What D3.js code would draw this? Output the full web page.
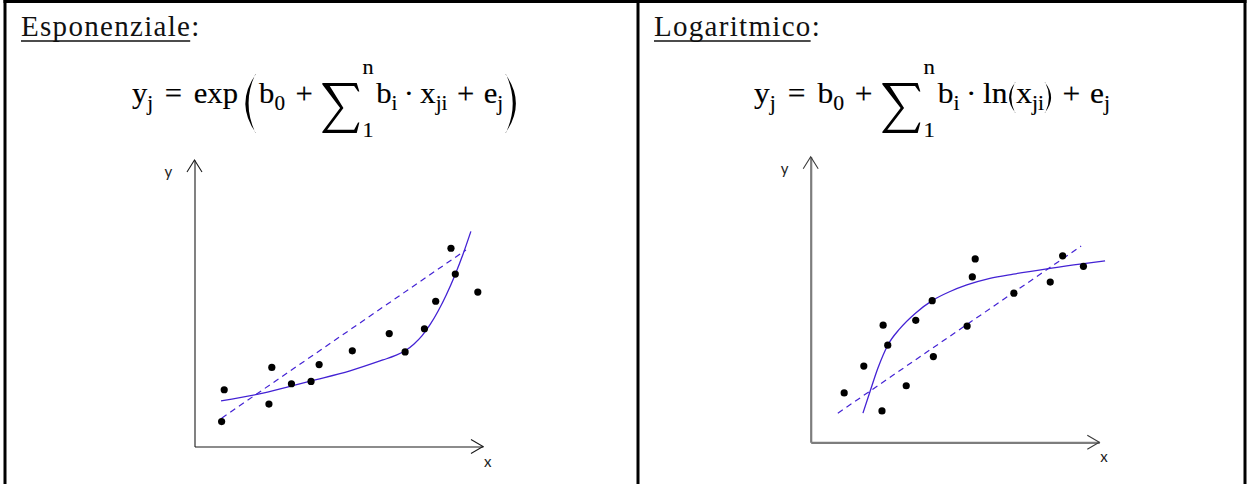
<!DOCTYPE html>
<html>
<head>
<meta charset="utf-8">
<script src="https://cdn.jsdelivr.net/npm/d3@7"></script>
<style>
  html, body { margin: 0; padding: 0; background: #fff; }
  svg { display: block; }
</style>
</head>
<body>
<svg id="chart" width="1248" height="484"></svg>
<script>
// ---- Exponential model: observations, straight fit, curved fit ----
const expPointsX = [0.94, 1.03, 2.58, 2.68, 3.36, 4.04, 4.32, 5.47, 6.75, 7.30, 7.97, 8.36, 8.89, 9.04, 9.82];
const expPointsY = [0.87, 1.98, 1.48, 2.76, 2.19, 2.27, 2.86, 3.34, 3.94, 3.30, 4.11, 5.07, 6.92, 6.02, 5.39];
const expLineX   = [0.94, 9.41];
const expLineY   = [0.99, 6.86];
const expCurveX  = [0.92, 2.17, 3.34, 4.04, 5.39, 6.53, 6.95, 7.30, 7.61, 7.89, 8.17, 8.45, 8.73, 9.03, 9.31, 9.58];
const expCurveY  = [1.59, 1.82, 2.11, 2.29, 2.64, 3.02, 3.17, 3.34, 3.58, 3.87, 4.26, 4.74, 5.30, 5.99, 6.72, 7.51];

// ---- Logarithmic model ----
const logPointsX = [1.16, 1.84, 2.47, 2.51, 2.67, 3.31, 3.64, 4.21, 4.25, 5.42, 5.60, 5.70, 7.04, 8.30, 8.73, 9.45];
const logPointsY = [1.73, 2.67, 1.10, 4.10, 3.40, 1.98, 4.27, 4.96, 3.00, 4.07, 5.79, 6.42, 5.22, 5.61, 6.53, 6.16];
const logLineX   = [0.94, 9.37];
const logLineY   = [1.02, 6.87];
const logCurveX  = [1.81, 2.05, 2.33, 2.67, 3.09, 3.64, 4.21, 4.83, 5.41, 6.21, 7.02, 8.29, 9.33, 10.20];
const logCurveY  = [1.02, 1.76, 2.60, 3.40, 3.98, 4.53, 4.96, 5.28, 5.51, 5.74, 5.89, 6.09, 6.24, 6.35];

const panelTitles = ["Esponenziale", "Logaritmico"];
const axisNames   = ["x", "y"];

// Formula pieces: main text, subscripts, operators, big delimiters and the sum
const expFormula = [
  {t: "y"}, {s: "j"}, {g: 11}, {t: "="}, {g: 11}, {t: "exp"}, {g: 5},
  {bigParen: "("}, {g: 3}, {t: "b"}, {s: "0"}, {g: 10}, {t: "+"}, {g: 9},
  {sum: true, top: "n", bottom: "1"}, {t: "b"}, {s: "i"}, {g: 6}, {t: "·"}, {g: 6},
  {t: "x"}, {s: "ji"}, {g: 9}, {t: "+"}, {g: 9}, {t: "e"}, {s: "j"}, {g: 2},
  {bigParen: ")"}
];
const logFormula = [
  {t: "y"}, {s: "j"}, {g: 11}, {t: "="}, {g: 11}, {t: "b"}, {s: "0"}, {g: 10},
  {t: "+"}, {g: 9}, {sum: true, top: "n", bottom: "1"}, {t: "b"}, {s: "i"}, {g: 6},
  {t: "·"}, {g: 6}, {t: "ln"}, {paren: "("}, {t: "x"}, {s: "ji"}, {paren: ")"},
  {g: 9}, {t: "+"}, {g: 9}, {t: "e"}, {s: "j"}
];

const svg = d3.select("#chart");
const SERIF = "'Liberation Serif', 'Times New Roman', serif";
const SANS = "Lato, 'Liberation Sans', sans-serif";
const CURVE = "#4322d4";

// ---- Table frame ----
const frame = svg.append("g").attr("stroke", "#000").attr("stroke-width", 3).attr("fill", "none");
frame.append("line").attr("x1", 3.5).attr("x2", 1246.5).attr("y1", 1.5).attr("y2", 1.5);
frame.append("line").attr("x1", 5).attr("x2", 5).attr("y1", 0).attr("y2", 484);
frame.append("line").attr("x1", 638).attr("x2", 638).attr("y1", 0).attr("y2", 484);
frame.append("line").attr("x1", 1245).attr("x2", 1245).attr("y1", 0).attr("y2", 484);

// ---- Titles (underlined word followed by a colon) ----
function title(x, baseline, word) {
  const g = svg.append("g");
  const w = g.append("text").attr("x", x).attr("y", baseline)
    .attr("font-family", SERIF).attr("font-size", 29).attr("letter-spacing", 1.3)
    .attr("fill", "#111").text(word);
  const len = w.node().getComputedTextLength();
  g.append("text").attr("x", x + len).attr("y", baseline)
    .attr("font-family", SERIF).attr("font-size", 29).attr("fill", "#111").text(":");
  g.append("line").attr("x1", x).attr("x2", x + len - 1)
    .attr("y1", baseline + 5).attr("y2", baseline + 5)
    .attr("stroke", "#111").attr("stroke-width", 1.4);
}
title(21, 36, panelTitles[0]);
title(654, 36, panelTitles[1]);

// ---- Formula layout ----
// crescent-shaped delimiter between yTop and yBot, w wide, thick at the middle
function parenPath(ch, x, w, yTop, yBot, thick) {
  const ym = (yTop + yBot) / 2;
  if (ch === "(") {
    const xr = x + w, xl = x, xi = xr - 0.7;
    return `M${xr},${yTop} Q${2 * xl - xr},${ym} ${xr},${yBot}` +
           ` L${xi},${yBot - 0.6} Q${2 * (xl + thick) - xi},${ym} ${xi},${yTop + 0.6} Z`;
  } else {
    const xl = x, xr = x + w, xi = xl + 0.7;
    return `M${xl},${yTop} Q${2 * xr - xl},${ym} ${xl},${yBot}` +
           ` L${xi},${yBot - 0.6} Q${2 * (xr - thick) - xi},${ym} ${xi},${yTop + 0.6} Z`;
  }
}
function sumPath(x, yTop, W, H) {
  const p = [
    [0, 0], [W * 0.93, 0], [W, H * 0.17], [W * 0.965, H * 0.17], [W * 0.86, H * 0.06],
    [W * 0.2, H * 0.06], [W * 0.57, H * 0.5], [W * 0.13, H * 0.935], [W * 0.86, H * 0.935],
    [W * 0.965, H * 0.79], [W, H * 0.79], [W * 0.93, H], [0, H], [0, H * 0.975],
    [W * 0.48, H * 0.5], [0, H * 0.03]
  ];
  return "M" + p.map(d => `${x + d[0]},${yTop + d[1]}`).join("L") + "Z";
}

function formula(tokens, xStart, xEnd, B) {
  const g = svg.append("g").attr("fill", "#000").attr("stroke", "#000").attr("stroke-width", 0.15);
  const MAIN = 29, SUB = 20, LIM = 21;
  let x = 0;
  tokens.forEach(tok => {
    if (tok.g !== undefined) { x += tok.g; return; }
    if (tok.t !== undefined || tok.s !== undefined) {
      const isSub = tok.s !== undefined;
      const t = g.append("text").attr("x", x).attr("y", isSub ? B + 7 : B)
        .attr("font-family", SERIF).attr("font-size", isSub ? SUB : MAIN)
        .text(isSub ? tok.s : tok.t);
      x += t.node().getComputedTextLength();
      return;
    }
    if (tok.bigParen) {
      g.append("path").attr("stroke", "none")
        .attr("d", parenPath(tok.bigParen, x + (tok.bigParen === "(" ? 2 : 0), 10, B - 29, B + 30, 3));
      x += 12;
      return;
    }
    if (tok.paren) {
      g.append("path").attr("stroke", "none")
        .attr("d", parenPath(tok.paren, x + (tok.paren === "(" ? 1.5 : 0.5), 6, B - 21, B + 10, 1.9));
      x += 8;
      return;
    }
    if (tok.sum) {
      const W = 35, H = 50;
      g.append("path").attr("stroke", "none").attr("d", sumPath(x, B - 20, W, H));
      g.append("text").attr("x", x + W + 3).attr("y", B - 29)
        .attr("font-family", SERIF).attr("font-size", LIM).text(tok.top);
      g.append("text").attr("x", x + W + 3).attr("y", B + 34)
        .attr("font-family", SERIF).attr("font-size", LIM).text(tok.bottom);
      x += W + 16;
    }
  });
  const k = (xEnd - xStart) / x;
  g.attr("transform", `translate(${xStart},0) scale(${k},1)`);
}
formula(expFormula, 132, 518, 103);
formula(logFormula, 754, 1110, 103);

// ---- Scatter panels ----
function panel(cfg) {
  const x = d3.scaleLinear().domain([0, 10]).range([cfg.x0, cfg.x1]);
  const y = d3.scaleLinear().domain([0, 10]).range([cfg.y0, cfg.y1]);
  const g = svg.append("g");

  // axes drawn by d3 without ticks, just the domain line
  const ax = g.append("g").attr("transform", `translate(0,${cfg.y0})`)
    .call(d3.axisBottom(x).tickValues([]).tickSizeOuter(0));
  const ay = g.append("g").attr("transform", `translate(${cfg.x0},0)`)
    .call(d3.axisLeft(y).tickValues([]).tickSizeOuter(0));
  [ax, ay].forEach(a => a.select(".domain")
    .attr("stroke", cfg.axisColor).attr("stroke-width", cfg.axisWidth));

  // open arrow heads
  const ah = g.append("g").attr("fill", "none").attr("stroke", cfg.headColor)
    .attr("stroke-width", 1.1).attr("stroke-linejoin", "miter");
  ah.append("path").attr("d",
    `M${x(0) - 7.5},${y(10) + 12} L${x(0)},${y(10)} L${x(0) + 7.5},${y(10) + 12}`);
  ah.append("path").attr("d",
    `M${x(10) - 12},${y(0) - 7} L${x(10)},${y(0)} L${x(10) - 12},${y(0) + 7}`);

  g.append("text").attr("x", x(0) - 30).attr("y", y(10) + 17)
    .attr("font-family", SANS).attr("font-size", 15).attr("fill", "#222").text(axisNames[1]);
  g.append("text").attr("x", x(10) + 1).attr("y", y(0) + 20)
    .attr("font-family", SANS).attr("font-size", 15).attr("fill", "#222").text(axisNames[0]);

  const line = d3.line().x(d => x(d[0])).y(d => y(d[1]));

  g.append("path").datum(d3.zip(cfg.lineX, cfg.lineY)).attr("d", line)
    .attr("fill", "none").attr("stroke", CURVE).attr("stroke-width", 1.2)
    .attr("stroke-dasharray", "6,4.5");

  g.append("path").datum(d3.zip(cfg.curveX, cfg.curveY))
    .attr("d", line.curve(d3.curveMonotoneX))
    .attr("fill", "none").attr("stroke", CURVE).attr("stroke-width", 1.3);

  g.selectAll("circle.obs").data(d3.zip(cfg.px, cfg.py)).join("circle")
    .attr("class", "obs").attr("cx", d => x(d[0])).attr("cy", d => y(d[1]))
    .attr("r", 3.6).attr("fill", "#000");
}

panel({
  x0: 194.5, x1: 483, y0: 446.5, y1: 160,
  axisColor: "#1a1a1a", axisWidth: 1.1, headColor: "#1a1a1a",
  px: expPointsX, py: expPointsY, lineX: expLineX, lineY: expLineY,
  curveX: expCurveX, curveY: expCurveY
});
panel({
  x0: 810.7, x1: 1099.3, y0: 442.3, y1: 156.7,
  axisColor: "#7d7d7d", axisWidth: 2.2, headColor: "#3a3a3a",
  px: logPointsX, py: logPointsY, lineX: logLineX, lineY: logLineY,
  curveX: logCurveX, curveY: logCurveY
});
</script>
</body>
</html>
